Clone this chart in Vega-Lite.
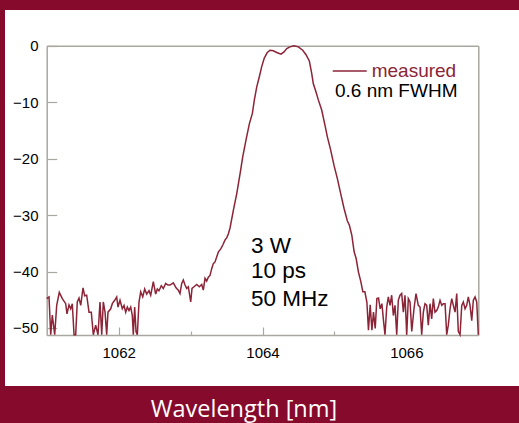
{
  "$schema": "https://vega.github.io/schema/vega-lite/v6.json",
  "width": 514,
  "height": 376,
  "autosize": {"type": "none"},
  "padding": {"left": 5, "top": 10, "right": 0, "bottom": 37},
  "background": "#860A2C",
  "config": {"view": {"fill": "white", "stroke": null}, "font": "Liberation Sans"},
  "title": {"text": "Wavelength [nm]", "orient": "bottom", "anchor": "middle", "frame": "group", "font": "Open Sans", "fontSize": 23.5, "fontWeight": "normal", "color": "white", "baseline": "alphabetic", "offset": 31, "dx": -18},
  "datasets": {
    "spectrum": [
      {"wl":1061.000,"dB":-44.8},{"wl":1061.032,"dB":-44.5},{"wl":1061.056,"dB":-51.2},{"wl":1061.078,"dB":-47.7},
      {"wl":1061.111,"dB":-51.2},{"wl":1061.139,"dB":-46.0},{"wl":1061.175,"dB":-43.7},{"wl":1061.217,"dB":-44.8},
      {"wl":1061.264,"dB":-45.7},{"wl":1061.282,"dB":-47.5},{"wl":1061.310,"dB":-45.9},{"wl":1061.334,"dB":-46.6},
      {"wl":1061.356,"dB":-45.7},{"wl":1061.380,"dB":-51.2},{"wl":1061.403,"dB":-51.2},{"wl":1061.425,"dB":-45.4},
      {"wl":1061.449,"dB":-44.7},{"wl":1061.473,"dB":-46.0},{"wl":1061.505,"dB":-42.9},{"wl":1061.528,"dB":-44.3},
      {"wl":1061.556,"dB":-44.2},{"wl":1061.588,"dB":-47.2},{"wl":1061.620,"dB":-47.2},{"wl":1061.648,"dB":-51.2},
      {"wl":1061.681,"dB":-49.5},{"wl":1061.713,"dB":-51.2},{"wl":1061.741,"dB":-45.4},{"wl":1061.765,"dB":-51.2},
      {"wl":1061.787,"dB":-45.4},{"wl":1061.811,"dB":-47.2},{"wl":1061.834,"dB":-51.2},{"wl":1061.852,"dB":-47.2},
      {"wl":1061.890,"dB":-46.6},{"wl":1061.912,"dB":-45.7},{"wl":1061.945,"dB":-45.1},{"wl":1061.973,"dB":-44.5},
      {"wl":1061.991,"dB":-46.3},{"wl":1062.019,"dB":-45.1},{"wl":1062.051,"dB":-46.6},{"wl":1062.075,"dB":-46.0},
      {"wl":1062.098,"dB":-47.2},{"wl":1062.121,"dB":-46.3},{"wl":1062.144,"dB":-46.9},{"wl":1062.168,"dB":-46.3},
      {"wl":1062.190,"dB":-47.8},{"wl":1062.204,"dB":-51.2},{"wl":1062.223,"dB":-46.3},{"wl":1062.242,"dB":-50.7},
      {"wl":1062.260,"dB":-51.2},{"wl":1062.283,"dB":-45.4},{"wl":1062.307,"dB":-43.6},{"wl":1062.335,"dB":-44.5},
      {"wl":1062.362,"dB":-43.1},{"wl":1062.390,"dB":-44.0},{"wl":1062.422,"dB":-43.4},{"wl":1062.446,"dB":-44.2},
      {"wl":1062.482,"dB":-41.8},{"wl":1062.515,"dB":-44.0},{"wl":1062.538,"dB":-43.1},{"wl":1062.561,"dB":-43.4},
      {"wl":1062.593,"dB":-42.5},{"wl":1062.621,"dB":-43.0},{"wl":1062.654,"dB":-42.1},{"wl":1062.686,"dB":-42.4},
      {"wl":1062.714,"dB":-42.4},{"wl":1062.760,"dB":-42.0},{"wl":1062.798,"dB":-42.9},{"wl":1062.830,"dB":-43.3},
      {"wl":1062.853,"dB":-43.9},{"wl":1062.877,"dB":-42.1},{"wl":1062.899,"dB":-41.5},{"wl":1062.923,"dB":-42.4},
      {"wl":1062.946,"dB":-43.0},{"wl":1062.969,"dB":-42.7},{"wl":1063.002,"dB":-45.4},{"wl":1063.020,"dB":-43.0},
      {"wl":1063.048,"dB":-42.7},{"wl":1063.085,"dB":-42.3},{"wl":1063.122,"dB":-42.7},{"wl":1063.155,"dB":-42.3},
      {"wl":1063.177,"dB":-43.3},{"wl":1063.201,"dB":-41.2},{"wl":1063.224,"dB":-41.7},{"wl":1063.247,"dB":-41.0},
      {"wl":1063.270,"dB":-40.7},{"wl":1063.294,"dB":-39.5},{"wl":1063.316,"dB":-38.6},{"wl":1063.340,"dB":-38.3},
      {"wl":1063.364,"dB":-37.4},{"wl":1063.387,"dB":-36.5},{"wl":1063.420,"dB":-36.0},{"wl":1063.448,"dB":-35.3},
      {"wl":1063.480,"dB":-34.4},{"wl":1063.504,"dB":-34.0},{"wl":1063.526,"dB":-33.3},{"wl":1063.550,"dB":-32.2},
      {"wl":1063.596,"dB":-29.1},{"wl":1063.642,"dB":-26.2},{"wl":1063.689,"dB":-22.6},{"wl":1063.725,"dB":-19.7},
      {"wl":1063.771,"dB":-16.7},{"wl":1063.818,"dB":-13.8},{"wl":1063.859,"dB":-12.0},{"wl":1063.887,"dB":-9.6},
      {"wl":1063.920,"dB":-7.3},{"wl":1063.956,"dB":-5.5},{"wl":1063.989,"dB":-3.7},{"wl":1064.025,"dB":-2.2},
      {"wl":1064.067,"dB":-1.2},{"wl":1064.104,"dB":-0.8},{"wl":1064.150,"dB":-0.9},{"wl":1064.198,"dB":-1.2},
      {"wl":1064.257,"dB":-1.5},{"wl":1064.299,"dB":-1.1},{"wl":1064.337,"dB":-0.5},{"wl":1064.382,"dB":-0.2},
      {"wl":1064.438,"dB":0.0},{"wl":1064.498,"dB":-0.2},{"wl":1064.559,"dB":-0.8},{"wl":1064.605,"dB":-1.6},
      {"wl":1064.651,"dB":-2.7},{"wl":1064.684,"dB":-4.9},{"wl":1064.706,"dB":-6.7},{"wl":1064.744,"dB":-8.2},
      {"wl":1064.776,"dB":-9.6},{"wl":1064.823,"dB":-11.4},{"wl":1064.869,"dB":-14.1},{"wl":1064.901,"dB":-16.1},
      {"wl":1064.948,"dB":-18.5},{"wl":1064.994,"dB":-21.2},{"wl":1065.040,"dB":-23.5},{"wl":1065.087,"dB":-26.2},
      {"wl":1065.133,"dB":-28.8},{"wl":1065.179,"dB":-31.0},{"wl":1065.208,"dB":-31.8},{"wl":1065.242,"dB":-33.6},
      {"wl":1065.274,"dB":-36.5},{"wl":1065.302,"dB":-37.7},{"wl":1065.334,"dB":-40.1},{"wl":1065.367,"dB":-41.8},
      {"wl":1065.395,"dB":-43.6},{"wl":1065.423,"dB":-43.6},{"wl":1065.451,"dB":-45.4},{"wl":1065.473,"dB":-50.4},
      {"wl":1065.497,"dB":-45.9},{"wl":1065.521,"dB":-50.4},{"wl":1065.543,"dB":-47.2},{"wl":1065.567,"dB":-50.1},
      {"wl":1065.590,"dB":-44.8},{"wl":1065.613,"dB":-44.7},{"wl":1065.636,"dB":-46.6},{"wl":1065.660,"dB":-45.7},
      {"wl":1065.682,"dB":-48.7},{"wl":1065.703,"dB":-51.2},{"wl":1065.727,"dB":-46.3},{"wl":1065.749,"dB":-44.5},
      {"wl":1065.773,"dB":-46.0},{"wl":1065.796,"dB":-44.2},{"wl":1065.819,"dB":-47.8},{"wl":1065.842,"dB":-46.0},
      {"wl":1065.866,"dB":-51.2},{"wl":1065.888,"dB":-45.1},{"wl":1065.912,"dB":-44.2},{"wl":1065.935,"dB":-43.9},
      {"wl":1065.958,"dB":-47.2},{"wl":1065.981,"dB":-44.2},{"wl":1066.005,"dB":-51.2},{"wl":1066.027,"dB":-44.8},
      {"wl":1066.051,"dB":-45.4},{"wl":1066.075,"dB":-50.6},{"wl":1066.106,"dB":-46.6},{"wl":1066.134,"dB":-43.9},
      {"wl":1066.166,"dB":-46.0},{"wl":1066.190,"dB":-46.3},{"wl":1066.213,"dB":-51.2},{"wl":1066.236,"dB":-47.2},
      {"wl":1066.259,"dB":-45.7},{"wl":1066.283,"dB":-46.0},{"wl":1066.305,"dB":-49.5},{"wl":1066.329,"dB":-45.7},
      {"wl":1066.352,"dB":-48.4},{"wl":1066.375,"dB":-44.8},{"wl":1066.398,"dB":-47.2},{"wl":1066.422,"dB":-46.9},
      {"wl":1066.444,"dB":-46.3},{"wl":1066.468,"dB":-45.1},{"wl":1066.492,"dB":-46.0},{"wl":1066.514,"dB":-45.7},
      {"wl":1066.538,"dB":-45.7},{"wl":1066.561,"dB":-51.2},{"wl":1066.583,"dB":-49.5},{"wl":1066.607,"dB":-46.6},
      {"wl":1066.631,"dB":-44.8},{"wl":1066.653,"dB":-46.0},{"wl":1066.677,"dB":-47.2},{"wl":1066.700,"dB":-43.9},
      {"wl":1066.722,"dB":-50.6},{"wl":1066.746,"dB":-51.2},{"wl":1066.770,"dB":-46.0},{"wl":1066.792,"dB":-45.4},
      {"wl":1066.816,"dB":-46.6},{"wl":1066.839,"dB":-46.0},{"wl":1066.861,"dB":-44.5},{"wl":1066.885,"dB":-46.0},
      {"wl":1066.909,"dB":-48.7},{"wl":1066.931,"dB":-45.1},{"wl":1066.955,"dB":-44.5},{"wl":1066.978,"dB":-45.4},
      {"wl":1067.000,"dB":-51.2}
    ],
    "fwhm": [{"wl": 1065.008, "dB": -9.03, "label": "0.6 nm FWHM"}],
    "notes": [
      {"wl": 1063.84, "dB": -36.72, "label": "3 W"},
      {"wl": 1063.84, "dB": -41.15, "label": "10 ps"},
      {"wl": 1063.84, "dB": -46.1, "label": "50 MHz"}
    ]
  },
  "layer": [
    {
      "data": {"name": "spectrum"},
      "mark": {"type": "line", "strokeWidth": 1.5, "interpolate": "linear"},
      "encoding": {
        "x": {
          "field": "wl", "type": "quantitative",
          "scale": {"domain": [1061, 1067], "range": [41.7, 473.3], "nice": false, "zero": false},
          "axis": {
            "orient": "bottom", "offset": -51, "title": null, "grid": false,
            "values": [1062, 1063, 1064, 1065, 1066], "format": "d",
            "labelExpr": "datum.value % 2 === 0 ? datum.label : ''",
            "domainColor": "#A8A8A0", "domainWidth": 1.5,
            "tickColor": "#A8A8A0", "tickWidth": 1.2,
            "tickSize": {"condition": {"test": "datum.value % 2 === 0", "value": -8}, "value": -4},
            "labelPadding": 18.5, "labelFontSize": 15, "labelColor": "black", "labelFont": "Liberation Sans"
          }
        },
        "y": {
          "field": "dB", "type": "quantitative",
          "scale": {"domain": [-51.3, 0], "range": [325.3, 35.7], "nice": false, "zero": false},
          "axis": {
            "orient": "left", "offset": -41.7, "title": null, "grid": false,
            "values": [0, -10, -20, -30, -40, -50], "format": "d",
            "domainColor": "#A8A8A0", "domainWidth": 1.5,
            "tickColor": "#A8A8A0", "tickWidth": 1.2, "tickSize": -10,
            "labelPadding": 18.7, "labelFontSize": 15, "labelColor": "black", "labelFont": "Liberation Sans"
          }
        },
        "color": {
          "datum": "measured", "type": "nominal",
          "scale": {"range": ["#8C2437"]},
          "legend": {
            "orient": "none", "legendX": 326.7, "legendY": 43, "title": null,
            "labelFontSize": 19, "labelFont": "Liberation Sans", "labelColor": "#8C2437",
            "symbolType": "stroke", "symbolSize": 1156, "symbolStrokeWidth": 1.5,
            "labelOffset": 4, "padding": 0
          }
        }
      }
    },
    {
      "data": {"name": "fwhm"},
      "mark": {"type": "text", "align": "left", "baseline": "alphabetic", "fontSize": 19, "font": "Liberation Sans", "color": "black"},
      "encoding": {
        "x": {"field": "wl", "type": "quantitative",
          "axis": {"orient": "top", "offset": -35.7, "title": null, "grid": false, "ticks": false, "labels": false, "domainColor": "#A8A8A0", "domainWidth": 1.5}},
        "y": {"field": "dB", "type": "quantitative",
          "axis": {"orient": "right", "offset": -40.7, "title": null, "grid": false, "ticks": false, "labels": false, "domainColor": "#A8A8A0", "domainWidth": 1.5}},
        "text": {"field": "label"}
      }
    },
    {
      "data": {"name": "notes"},
      "mark": {"type": "text", "align": "left", "baseline": "alphabetic", "fontSize": 22.5, "font": "Liberation Sans", "color": "black"},
      "encoding": {
        "x": {"field": "wl", "type": "quantitative", "axis": null},
        "y": {"field": "dB", "type": "quantitative", "axis": null},
        "text": {"field": "label"}
      }
    }
  ],
  "resolve": {"axis": {"x": "independent", "y": "independent"}}
}
